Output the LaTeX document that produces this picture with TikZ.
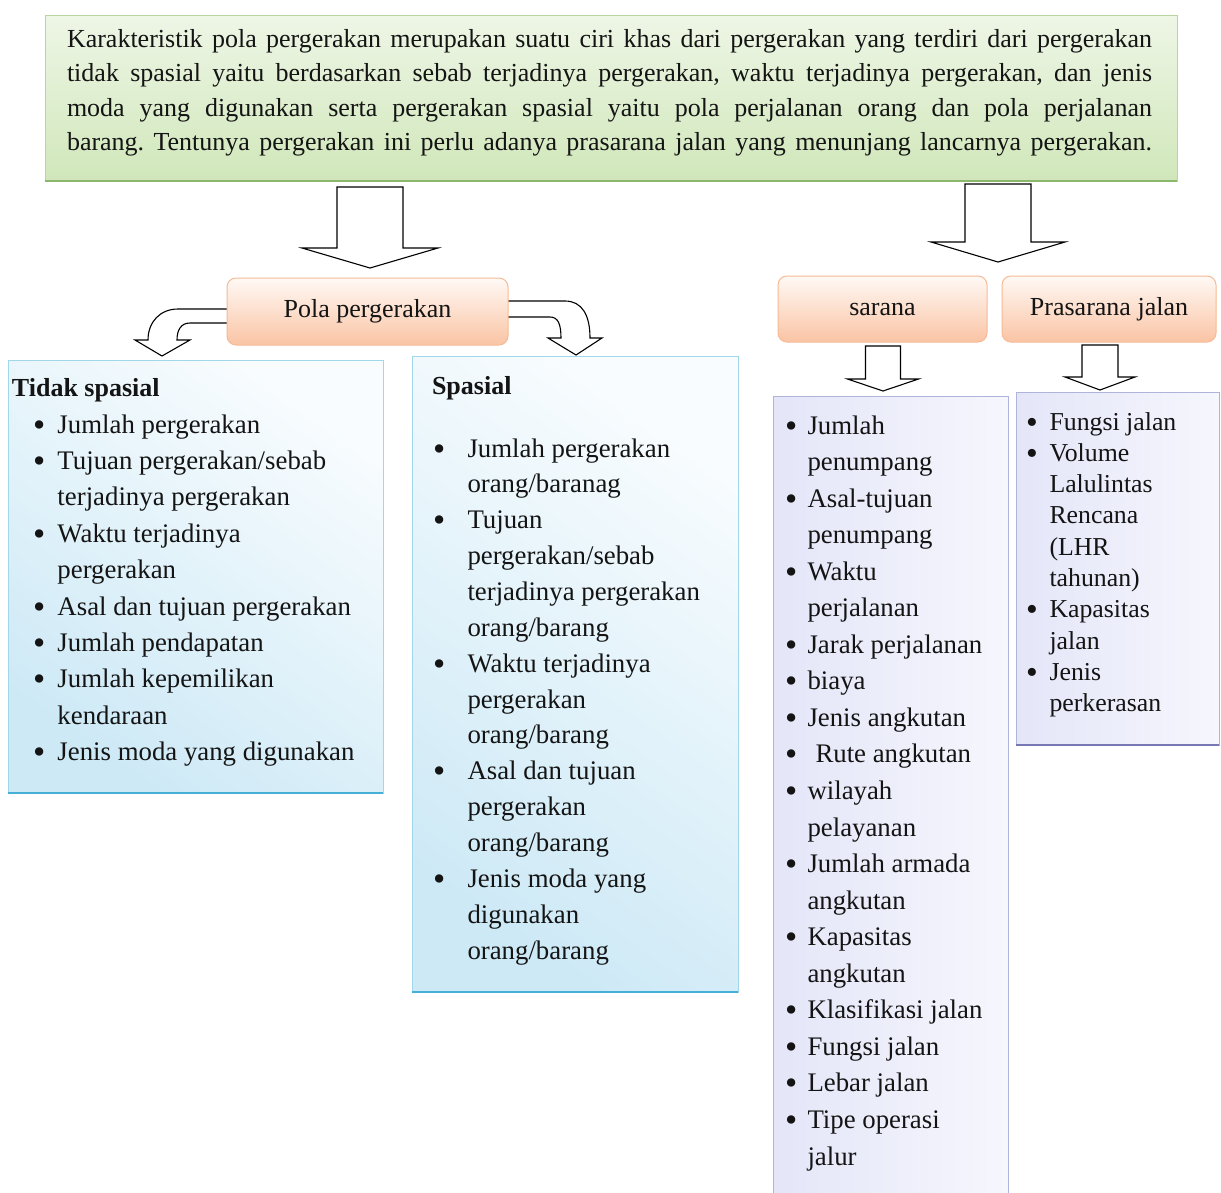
\documentclass[tikz,border=0pt]{standalone}
\usepackage{fontspec}
\setmainfont{Liberation Serif}
\frenchspacing
\definecolor{grnTop}{RGB}{238,246,230}
\definecolor{grnBot}{RGB}{208,231,186}
\definecolor{grnLine}{RGB}{185,212,160}
\definecolor{grnShadow}{RGB}{140,185,105}
\definecolor{orTop}{RGB}{255,249,245}
\definecolor{orBot}{RGB}{250,196,164}
\definecolor{orLine}{RGB}{246,186,150}
\definecolor{bluL}{RGB}{205,233,246}
\definecolor{bluR}{RGB}{248,252,254}
\definecolor{bluLine}{RGB}{160,215,235}
\definecolor{bluShadow}{RGB}{70,175,215}
\definecolor{lavL}{RGB}{228,230,248}
\definecolor{lavR}{RGB}{246,246,253}
\definecolor{lavLine}{RGB}{175,180,220}
\definecolor{lavShadow}{RGB}{120,120,180}
\definecolor{ink}{RGB}{20,20,20}

\newcommand\mybullet{\raisebox{-3pt}{\scalebox{1.3}{\textbullet}}}
\newcommand\itm[1]{\makebox[\bw][l]{\mybullet}#1}
\newcommand\cnt[1]{\hspace*{\bw}#1}
\newcommand\jline[1]{\makebox[\linewidth][s]{\spaceskip=0pt\xspaceskip=0pt #1}}
\newcommand\natsp{\spaceskip=0pt\xspaceskip=0pt}
\newcommand\fatdown[6]{%
  \draw[fatarrow] ({#1-#5},#2) -- ({#1+#5},#2) -- ({#1+#5},#3) -- ({#1+#6},#3)
    -- (#1,#4) -- ({#1-#6},#3) -- ({#1-#5},#3) -- cycle;}

\tikzset{
  boxbase/.style={anchor=north west, inner sep=0pt, outer sep=0pt},
  greenbox/.style={boxbase, draw=grnLine, line width=1pt, top color=grnTop, bottom color=grnBot},
  orangebox/.style={boxbase, draw=orLine, line width=1pt, rounded corners=9pt,
    top color=orTop, bottom color=orBot, font=\fontsize{26}{30}\selectfont, text=ink},
  bluebox/.style={boxbase, draw=bluLine, line width=0.8pt, shading=axis,
    top color=bluR, bottom color=bluL, shading angle=-35},
  lavbox/.style={boxbase, draw=lavLine, line width=0.8pt, left color=lavL, right color=lavR},
  fatarrow/.style={draw=black, line width=1.1pt, fill=white, line join=miter},
  bulletw/.code={\def\bw{#1}},
  listtext/.style={anchor=base west, inner sep=0pt, outer sep=0pt, align=left,
    text=ink, text width=#1},
  titletext/.style={anchor=base west, inner sep=0pt, outer sep=0pt, text=ink,
    font=\fontsize{26}{30}\selectfont\bfseries},
}

\begin{document}
\begin{tikzpicture}[x=1pt,y=-1pt]
\useasboundingbox (0,0) rectangle (1221,1192);
\clip (0,0) rectangle (1221,1192);
\fill[white] (0,0) rectangle (1221,1192);

% top box
\node[greenbox, minimum width=1132pt, minimum height=166pt] (top) at (45,15) {};
\draw[grnShadow, line width=2.5pt] (top.south west) -- (top.south east);
\node[listtext=1085pt, font=\fontsize{26}{34.5}\selectfont] (toptext) at (67,47) {%
\jline{Karakteristik pola pergerakan merupakan suatu ciri khas dari pergerakan yang terdiri dari pergerakan}\\
\jline{tidak spasial yaitu berdasarkan sebab terjadinya pergerakan, waktu terjadinya pergerakan, dan jenis}\\
\jline{moda yang digunakan serta pergerakan spasial yaitu pola perjalanan orang dan pola perjalanan}\\
\jline{barang. Tentunya pergerakan ini perlu adanya prasarana jalan yang menunjang lancarnya pergerakan.}};

% block arrows
\fatdown{370}{187}{248}{268}{33}{68}
\fatdown{998}{184}{242}{262}{33}{67}
\fatdown{883}{346}{379}{391}{17.5}{35.5}
\fatdown{1100}{345}{377}{390}{18}{35}

% curved arrows
\draw[fatarrow] (230,309) -- (178,309) .. controls (160,309) and (148,322) .. (148,340)
  -- (135,340) -- (162,356) -- (190,340) -- (177,340)
  .. controls (177,330) and (181,323) .. (190,323) -- (230,323) -- cycle;
\draw[fatarrow] (505,301) -- (565,301) .. controls (582,301) and (590,315) .. (590,338)
  -- (602,338) -- (576,355) -- (548,338) -- (561,338)
  .. controls (561,324) and (558,317) .. (550,317) -- (505,317) -- cycle;

% orange boxes
\node[orangebox, minimum width=281pt, minimum height=67pt] (pola) at (227,278) {Pola pergerakan};
\node[orangebox, minimum width=209pt, minimum height=66pt] (sarana) at (778,276) {sarana};
\node[orangebox, minimum width=214pt, minimum height=66pt] (prasarana) at (1002,276) {Prasarana jalan};

% list boxes
\node[bluebox, minimum width=375pt, minimum height=433pt] (tidak) at (8,360) {};
\node[bluebox, minimum width=326pt, minimum height=636pt] (spasial) at (412,356) {};
\node[lavbox, minimum width=235pt, minimum height=810pt] (saranalist) at (773,396) {};
\node[lavbox, minimum width=203pt, minimum height=353pt] (praslist) at (1016,392) {};
\draw[bluShadow, line width=2.5pt] (tidak.south west) -- (tidak.south east);
\draw[bluShadow, line width=2.5pt] (spasial.south west) -- (spasial.south east);
\draw[lavShadow, line width=2.5pt] (praslist.south west) -- (praslist.south east);

% Tidak spasial
\node[titletext] (tidaktitle) at (12,396) {Tidak spasial};
\node[listtext=360pt, bulletw=24.5pt, font=\fontsize{26.8}{36.4}\selectfont] (tidaklist) at (33,433) {\natsp
\itm{Jumlah pergerakan}\\
\itm{Tujuan pergerakan/sebab}\\
\cnt{terjadinya pergerakan}\\
\itm{Waktu terjadinya}\\
\cnt{pergerakan}\\
\itm{Asal dan tujuan pergerakan}\\
\itm{Jumlah pendapatan}\\
\itm{Jumlah kepemilikan}\\
\cnt{kendaraan}\\
\itm{Jenis moda yang digunakan}};

% Spasial
\node[titletext] (spasialtitle) at (432,394) {Spasial};
\node[listtext=300pt, bulletw=34.5pt, font=\fontsize{26.8}{35.86}\selectfont] (spasiallist) at (433,457) {\natsp
\itm{Jumlah pergerakan}\\
\cnt{orang/baranag}\\
\itm{Tujuan}\\
\cnt{pergerakan/sebab}\\
\cnt{terjadinya pergerakan}\\
\cnt{orang/barang}\\
\itm{Waktu terjadinya}\\
\cnt{pergerakan}\\
\cnt{orang/barang}\\
\itm{Asal dan tujuan}\\
\cnt{pergerakan}\\
\cnt{orang/barang}\\
\itm{Jenis moda yang}\\
\cnt{digunakan}\\
\cnt{orang/barang}};

% sarana list
\node[listtext=230pt, bulletw=22.5pt, font=\fontsize{26.8}{36.55}\selectfont] (saranatext) at (785,434) {\natsp
\itm{Jumlah}\\
\cnt{penumpang}\\
\itm{Asal-tujuan}\\
\cnt{penumpang}\\
\itm{Waktu}\\
\cnt{perjalanan}\\
\itm{Jarak perjalanan}\\
\itm{biaya}\\
\itm{Jenis angkutan}\\
\itm{\hspace*{8pt}Rute angkutan}\\
\itm{wilayah}\\
\cnt{pelayanan}\\
\itm{Jumlah armada}\\
\cnt{angkutan}\\
\itm{Kapasitas}\\
\cnt{angkutan}\\
\itm{Klasifikasi jalan}\\
\itm{Fungsi jalan}\\
\itm{Lebar jalan}\\
\itm{Tipe operasi}\\
\cnt{jalur}};

% prasarana list
\node[listtext=190pt, bulletw=23.5pt, font=\fontsize{25.8}{31.33}\selectfont] (prastext) at (1026,430) {\natsp
\itm{Fungsi jalan}\\
\itm{Volume}\\
\cnt{Lalulintas}\\
\cnt{Rencana}\\
\cnt{(LHR}\\
\cnt{tahunan)}\\
\itm{Kapasitas}\\
\cnt{jalan}\\
\itm{Jenis}\\
\cnt{perkerasan}};
\end{tikzpicture}
\end{document}
